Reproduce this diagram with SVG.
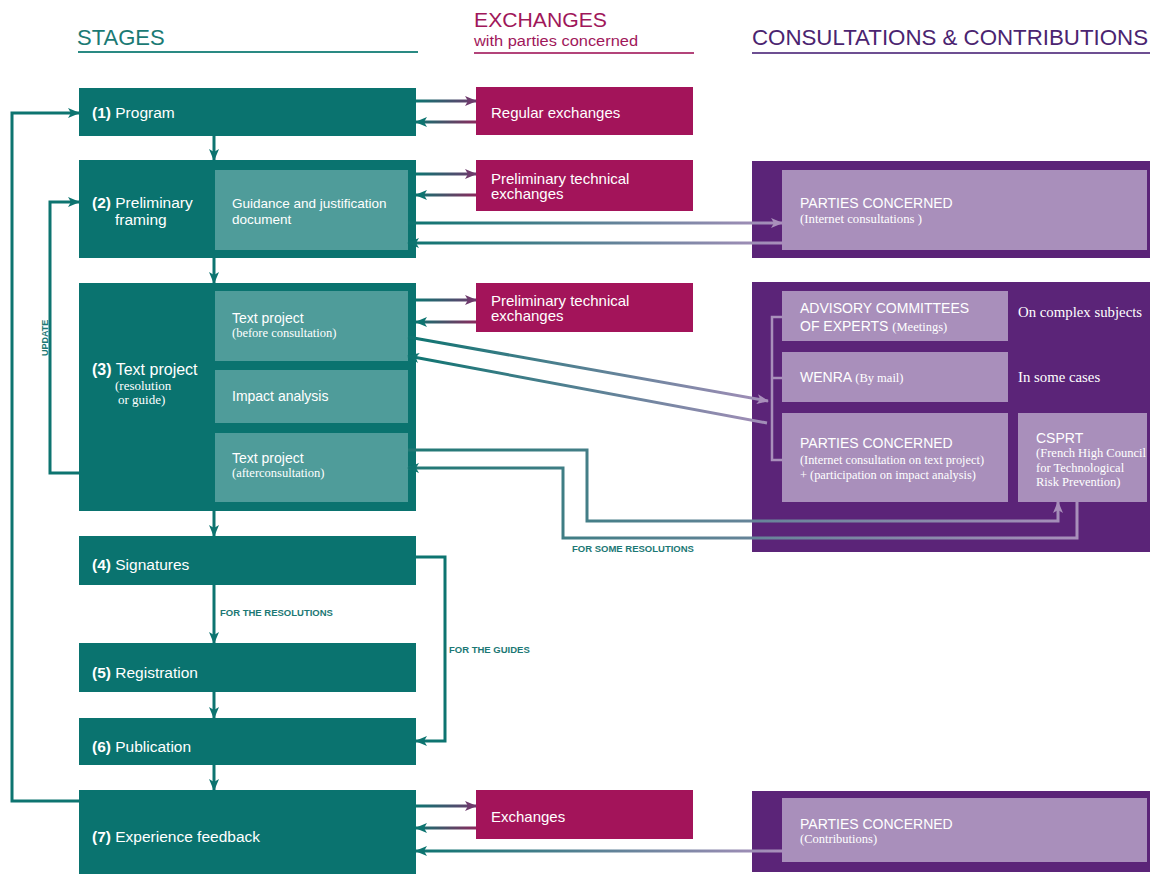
<svg xmlns="http://www.w3.org/2000/svg" width="1150" height="874" viewBox="0 0 1150 874">
<style>
.stage{fill:#0a736f}
.inner{fill:#4f9c9a}
.exch{fill:#a3145a}
.cons{fill:#5b2478}
.light{fill:#a98fbb}
.t{font-family:"Liberation Sans",Arial,sans-serif;fill:#fff}
.s{font-family:"Liberation Serif","Times New Roman",serif;fill:#fff}
.lbl{font-family:"Liberation Sans",Arial,sans-serif;font-weight:bold;font-size:9.5px;fill:#1c7874}
.tl{fill:none;stroke:#0d7470;stroke-width:3}
</style>
<defs>
<marker id="aT" markerUnits="userSpaceOnUse" markerWidth="12" markerHeight="10" refX="11" refY="5" orient="auto"><path d="M0,0 L12,5 L0,10 L3,5 z" fill="#0d7470"/></marker>
<marker id="aP" markerUnits="userSpaceOnUse" markerWidth="12" markerHeight="10" refX="11" refY="5" orient="auto"><path d="M0,0 L12,5 L0,10 L3,5 z" fill="#6e3a6c"/></marker>
<marker id="aL" markerUnits="userSpaceOnUse" markerWidth="12" markerHeight="10" refX="11" refY="5" orient="auto"><path d="M0,0 L12,5 L0,10 L3,5 z" fill="#a98fbb"/></marker>
<linearGradient id="gR" gradientUnits="userSpaceOnUse" x1="416" y1="0" x2="476" y2="0"><stop offset="0" stop-color="#0d7470"/><stop offset="1" stop-color="#6e3a6c"/></linearGradient>
<linearGradient id="gLft" gradientUnits="userSpaceOnUse" x1="416" y1="0" x2="476" y2="0"><stop offset="0" stop-color="#0d7470"/><stop offset="1" stop-color="#8a2a5e"/></linearGradient>
<linearGradient id="gLong" gradientUnits="userSpaceOnUse" x1="408" y1="0" x2="782" y2="0"><stop offset="0" stop-color="#0d7470"/><stop offset="1" stop-color="#a98fbb"/></linearGradient>
<linearGradient id="gLong7" gradientUnits="userSpaceOnUse" x1="416" y1="0" x2="782" y2="0"><stop offset="0" stop-color="#0d7470"/><stop offset="1" stop-color="#a98fbb"/></linearGradient>
<linearGradient id="gCS" gradientUnits="userSpaceOnUse" x1="408" y1="0" x2="1080" y2="0"><stop offset="0" stop-color="#1f7874"/><stop offset="1" stop-color="#a98fbb"/></linearGradient>
</defs>

<g id="headers">
<text x="77" y="45" class="t" style="fill:#1b7a74;font-size:22px">STAGES</text>
<line x1="78" y1="52" x2="418" y2="52" stroke="#2a8a83" stroke-width="2"/>
<text x="474" y="27" class="t" style="fill:#a0175a;font-size:21px" textLength="133" lengthAdjust="spacingAndGlyphs">EXCHANGES</text>
<text x="474" y="46" class="t" style="fill:#a0175a;font-size:14px" textLength="164" lengthAdjust="spacingAndGlyphs">with parties concerned</text>
<line x1="474" y1="53" x2="694" y2="53" stroke="#b3447a" stroke-width="2"/>
<text x="752" y="45" class="t" style="fill:#4b2470;font-size:22px" textLength="396" lengthAdjust="spacingAndGlyphs">CONSULTATIONS &amp; CONTRIBUTIONS</text>
<line x1="752" y1="53" x2="1150" y2="53" stroke="#6d4f92" stroke-width="2"/>
</g>

<g id="stage1">
<rect x="79" y="88" width="337" height="48" class="stage"/>
<text x="92" y="118" class="t" style="font-size:15.5px"><tspan font-weight="bold">(1)</tspan> Program</text>
</g>
<g id="stage2">
<rect x="79" y="160" width="337" height="98" class="stage"/>
<text x="92" y="208" class="t" style="font-size:15.5px"><tspan font-weight="bold">(2)</tspan> Preliminary</text>
<text x="115" y="225" class="t" style="font-size:15.5px">framing</text>
<rect x="215" y="170" width="193" height="80" class="inner"/>
<text x="232" y="208" class="t" style="font-size:13.5px">Guidance and justification</text>
<text x="232" y="224" class="t" style="font-size:13.5px">document</text>
</g>
<g id="stage3">
<rect x="79" y="283" width="337" height="228" class="stage"/>
<text x="92" y="375" class="t" style="font-size:16px"><tspan font-weight="bold">(3)</tspan> Text project</text>
<text x="115" y="390" class="s" style="font-size:13px">(resolution</text>
<text x="118" y="404" class="s" style="font-size:13px">or guide)</text>
</g>
<g id="tp-before">
<rect x="215" y="291" width="193" height="70" class="inner"/>
<text x="232" y="323" class="t" style="font-size:14px">Text project</text>
<text x="232" y="337" class="s" style="font-size:12.5px">(before consultation)</text>
</g>
<g id="impact">
<rect x="215" y="370" width="193" height="53" class="inner"/>
<text x="232" y="401" class="t" style="font-size:14px">Impact analysis</text>
</g>
<g id="tp-after">
<rect x="215" y="433" width="193" height="69" class="inner"/>
<text x="232" y="463" class="t" style="font-size:14px">Text project</text>
<text x="232" y="477" class="s" style="font-size:12.5px">(afterconsultation)</text>
</g>
<g id="stage4">
<rect x="79" y="536" width="337" height="49" class="stage"/>
<text x="92" y="570" class="t" style="font-size:15.5px"><tspan font-weight="bold">(4)</tspan> Signatures</text>
</g>
<g id="stage5">
<rect x="79" y="643" width="337" height="49" class="stage"/>
<text x="92" y="678" class="t" style="font-size:15.5px"><tspan font-weight="bold">(5)</tspan> Registration</text>
</g>
<g id="stage6">
<rect x="79" y="718" width="337" height="47" class="stage"/>
<text x="92" y="752" class="t" style="font-size:15.5px"><tspan font-weight="bold">(6)</tspan> Publication</text>
</g>
<g id="stage7">
<rect x="79" y="790" width="337" height="84" class="stage"/>
<text x="92" y="842" class="t" style="font-size:15.5px"><tspan font-weight="bold">(7)</tspan> Experience feedback</text>
</g>

<g id="exch1">
<rect x="476" y="87" width="217" height="48" class="exch"/>
<text x="491" y="118" class="t" style="font-size:15px">Regular exchanges</text>
</g>
<g id="exch2">
<rect x="476" y="160" width="217" height="51" class="exch"/>
<text x="491" y="184" class="t" style="font-size:15px">Preliminary technical</text>
<text x="491" y="199" class="t" style="font-size:15px">exchanges</text>
</g>
<g id="exch3">
<rect x="476" y="283" width="217" height="49" class="exch"/>
<text x="491" y="306" class="t" style="font-size:15px">Preliminary technical</text>
<text x="491" y="321" class="t" style="font-size:15px">exchanges</text>
</g>
<g id="exch7">
<rect x="476" y="790" width="217" height="49" class="exch"/>
<text x="491" y="822" class="t" style="font-size:15px">Exchanges</text>
</g>

<g id="cons2">
<rect x="752" y="161" width="398" height="97" class="cons"/>
<rect x="782" y="170" width="365" height="80" class="light"/>
<text x="800" y="208" class="t" style="font-size:14px">PARTIES CONCERNED</text>
<text x="800" y="223" class="s" style="font-size:12.5px" textLength="122" lengthAdjust="spacingAndGlyphs">(Internet consultations )</text>
</g>
<g id="cons3">
<rect x="752" y="282" width="398" height="270" class="cons"/>
<text x="1018" y="317" class="s" style="font-size:14.8px">On complex subjects</text>
<text x="1018" y="382" class="s" style="font-size:14.8px">In some cases</text>
</g>
<g id="advisory">
<rect x="782" y="291" width="226" height="50" class="light"/>
<text x="800" y="313" class="t" style="font-size:14px">ADVISORY COMMITTEES</text>
<text x="800" y="331" class="t" style="font-size:14px">OF EXPERTS <tspan class="s" style="font-size:12.5px">(Meetings)</tspan></text>
</g>
<g id="wenra">
<rect x="782" y="352" width="226" height="50" class="light"/>
<text x="800" y="382" class="t" style="font-size:14px">WENRA <tspan class="s" style="font-size:12.5px">(By mail)</tspan></text>
</g>
<g id="parties3">
<rect x="782" y="413" width="226" height="89" class="light"/>
<text x="800" y="448" class="t" style="font-size:14px">PARTIES CONCERNED</text>
<text x="800" y="464" class="s" style="font-size:12.5px" textLength="184" lengthAdjust="spacingAndGlyphs">(Internet consultation on text project)</text>
<text x="800" y="479" class="s" style="font-size:12.5px" textLength="176" lengthAdjust="spacingAndGlyphs">+ (participation on impact analysis)</text>
</g>
<g id="csprt">
<rect x="1018" y="413" width="129" height="89" class="light"/>
<text x="1036" y="443" class="t" style="font-size:14px">CSPRT</text>
<text x="1036" y="457" class="s" style="font-size:12.5px" textLength="110" lengthAdjust="spacingAndGlyphs">(French High Council</text>
<text x="1036" y="472" class="s" style="font-size:12.5px">for Technological</text>
<text x="1036" y="486" class="s" style="font-size:12.5px">Risk Prevention)</text>
</g>
<g id="cons7">
<rect x="752" y="791" width="398" height="81" class="cons"/>
<rect x="782" y="798" width="365" height="64" class="light"/>
<text x="800" y="829" class="t" style="font-size:14px">PARTIES CONCERNED</text>
<text x="800" y="843" class="s" style="font-size:12.5px">(Contributions)</text>
</g>

<g id="connectors">
<line x1="214" y1="136" x2="214" y2="160" class="tl" marker-end="url(#aT)"/>
<line x1="214" y1="258" x2="214" y2="283" class="tl" marker-end="url(#aT)"/>
<line x1="214" y1="511" x2="214" y2="536" class="tl" marker-end="url(#aT)"/>
<line x1="214" y1="585" x2="214" y2="643" class="tl" marker-end="url(#aT)"/>
<line x1="214" y1="692" x2="214" y2="718" class="tl" marker-end="url(#aT)"/>
<line x1="214" y1="765" x2="214" y2="790" class="tl" marker-end="url(#aT)"/>
<text x="220" y="616" class="lbl">FOR THE RESOLUTIONS</text>
<polyline points="416,557 445,557 445,741 416,741" class="tl" marker-end="url(#aT)"/>
<text x="449" y="653" class="lbl">FOR THE GUIDES</text>
<polyline points="79,801 12,801 12,113 79,113" class="tl" marker-end="url(#aT)"/>
<polyline points="79,473 50,473 50,202 79,202" class="tl" marker-end="url(#aT)"/>
<text transform="translate(48,356) rotate(-90)" class="lbl" style="font-size:9px">UPDATE</text>
<line x1="416" y1="101" x2="476" y2="101" stroke="url(#gR)" stroke-width="3" marker-end="url(#aP)"/>
<line x1="476" y1="122" x2="416" y2="122" stroke="url(#gLft)" stroke-width="3" marker-end="url(#aT)"/>
<line x1="416" y1="174" x2="476" y2="174" stroke="url(#gR)" stroke-width="3" marker-end="url(#aP)"/>
<line x1="476" y1="195" x2="416" y2="195" stroke="url(#gLft)" stroke-width="3" marker-end="url(#aT)"/>
<line x1="416" y1="300" x2="476" y2="300" stroke="url(#gR)" stroke-width="3" marker-end="url(#aP)"/>
<line x1="476" y1="322" x2="416" y2="322" stroke="url(#gLft)" stroke-width="3" marker-end="url(#aT)"/>
<line x1="416" y1="806" x2="476" y2="806" stroke="url(#gR)" stroke-width="3" marker-end="url(#aP)"/>
<line x1="476" y1="828" x2="416" y2="828" stroke="url(#gLft)" stroke-width="3" marker-end="url(#aT)"/>
<line x1="408" y1="223" x2="782" y2="223" stroke="url(#gLong)" stroke-width="3" marker-end="url(#aL)"/>
<line x1="782" y1="243" x2="408" y2="243" stroke="url(#gLong)" stroke-width="3" marker-end="url(#aT)"/>
<line x1="408" y1="337" x2="768" y2="401" stroke="url(#gLong)" stroke-width="3" marker-end="url(#aL)"/>
<line x1="767" y1="423" x2="408" y2="356" stroke="url(#gLong)" stroke-width="3" marker-end="url(#aT)"/>
<polyline points="782,317 772,317 772,460 782,460" fill="none" stroke="#a98fbb" stroke-width="2.5"/>
<line x1="772" y1="378" x2="782" y2="378" stroke="#a98fbb" stroke-width="2.5"/>
<polyline points="408,450 587,450 587,521 1058,521 1058,502" fill="none" stroke="url(#gCS)" stroke-width="3" marker-end="url(#aL)"/>
<polyline points="1077,502 1077,538 563,538 563,468 408,468" fill="none" stroke="url(#gCS)" stroke-width="3" marker-end="url(#aT)"/>
<text x="572" y="552" class="lbl">FOR SOME RESOLUTIONS</text>
<line x1="782" y1="851" x2="416" y2="851" stroke="url(#gLong7)" stroke-width="3" marker-end="url(#aT)"/>
</g>
</svg>
